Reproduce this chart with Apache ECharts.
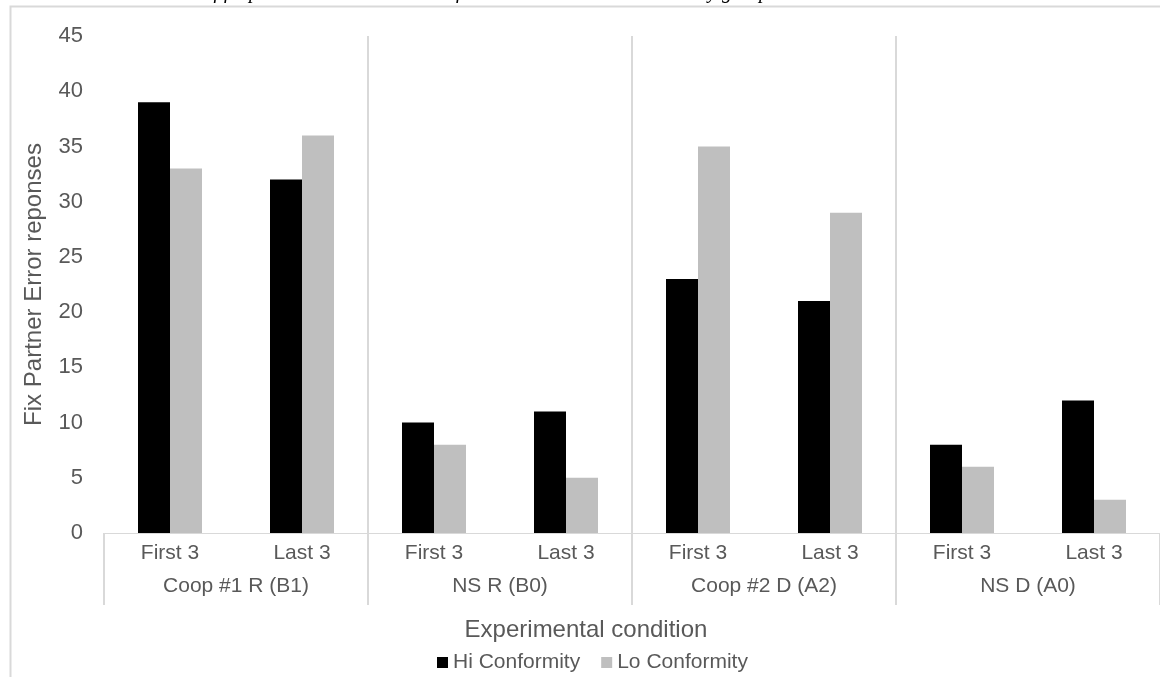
<!DOCTYPE html>
<html>
<head>
<meta charset="utf-8">
<script src="https://cdn.jsdelivr.net/npm/echarts@6/dist/echarts.min.js"></script>
<style>
html,body{margin:0;padding:0;background:#fff;}
#chart{width:1160px;height:677px;}
</style>
</head>
<body>
<div id="chart"></div>
<script>
const groups = ['Coop #1 R (B1)', 'NS R (B0)', 'Coop #2 D (A2)', 'NS D (A0)'];
const periods = ['First 3', 'Last 3'];
const categories = ['First 3', 'Last 3', 'First 3', 'Last 3', 'First 3', 'Last 3', 'First 3', 'Last 3'];
const hiConformity = [39, 32, 10, 11, 23, 21, 8, 12];
const loConformity = [33, 36, 8, 5, 35, 29, 6, 3];
const yTicks = { min: 0, max: 45, interval: 5 };
const captionText = 'First three and last three of fix partner error votes totals for each condition broken out by group';

const chart = echarts.init(document.getElementById('chart'), null, { renderer: 'canvas' });
const labelColor = '#595959';
const lineColor = '#d9d9d9';
const font = 'Arial, "Liberation Sans", sans-serif';

chart.setOption({
  animation: false,
  backgroundColor: '#ffffff',
  textStyle: { fontFamily: font },
  grid: { left: 104, right: 0, top: 36, bottom: 144, containLabel: false },
  legend: {
    data: ['Hi Conformity', 'Lo Conformity'],
    left: 432, top: 647,
    itemWidth: 11, itemHeight: 11, itemGap: 21,
    icon: 'rect',
    textStyle: { fontSize: 21, color: labelColor, fontFamily: font }
  },
  xAxis: [
    {
      type: 'category',
      data: categories,
      position: 'bottom',
      axisLine: { show: true, lineStyle: { color: lineColor, width: 1 } },
      axisTick: { show: false },
      axisLabel: { fontSize: 21, color: labelColor, margin: 10, fontFamily: font },
      splitLine: { show: false }
    },
    {
      type: 'category',
      data: groups,
      position: 'bottom',
      axisLine: { show: false },
      axisTick: { show: true, length: 72, inside: false, lineStyle: { color: lineColor, width: 2 } },
      axisLabel: { fontSize: 21, color: labelColor, margin: 43, fontFamily: font },
      splitLine: { show: true, showMinLine: false, showMaxLine: false, lineStyle: { color: lineColor, width: 2 } }
    }
  ],
  yAxis: {
    type: 'value',
    min: yTicks.min, max: yTicks.max, interval: yTicks.interval,
    name: 'Fix Partner Error reponses',
    nameLocation: 'middle',
    nameGap: 58,
    nameTextStyle: { fontSize: 24, color: labelColor, fontFamily: font },
    axisLine: { show: false },
    axisTick: { show: false },
    axisLabel: { fontSize: 22, color: labelColor, margin: 21, fontFamily: font },
    splitLine: { show: false }
  },
  series: [
    {
      name: 'Hi Conformity', type: 'bar', xAxisIndex: 0,
      data: hiConformity, barWidth: 32, barGap: '0%',
      itemStyle: { color: '#000000' }
    },
    {
      name: 'Lo Conformity', type: 'bar', xAxisIndex: 0,
      data: loConformity, barWidth: 32, barGap: '0%',
      itemStyle: { color: '#bfbfbf' }
    }
  ],
  graphic: [
    {
      type: 'rect', silent: true, z: -1,
      shape: { x: 10.5, y: 6.5, width: 1300, height: 800 },
      style: { fill: 'none', stroke: lineColor, lineWidth: 2 }
    },
    {
      type: 'text', silent: true,
      x: 586, y: 630,
      style: { text: 'Experimental condition', fontSize: 24, fill: labelColor, fontFamily: font, textAlign: 'center', textVerticalAlign: 'middle' }
    },
    {
      type: 'text', silent: true,
      x: 0, y: 3,
      style: { text: captionText, fontSize: 20, fontStyle: 'italic', fill: '#000', fontFamily: '"Liberation Serif", "DejaVu Serif", serif', textVerticalAlign: 'bottom' }
    }
  ]
});
</script>
</body>
</html>
